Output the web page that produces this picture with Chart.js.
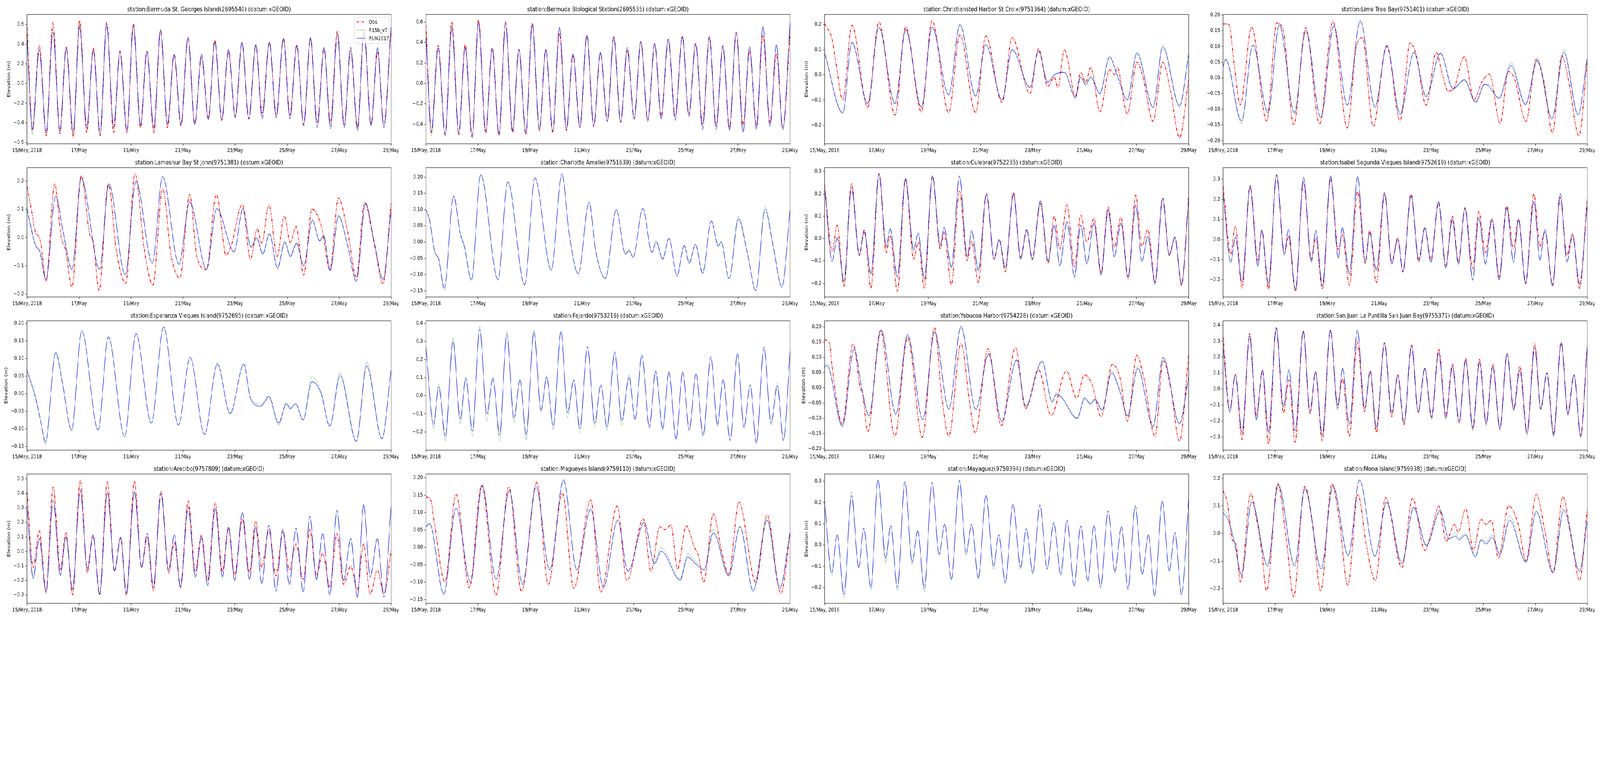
<!DOCTYPE html>
<html>
<head>
<meta charset="utf-8">
<script src="https://cdn.jsdelivr.net/npm/chart.js@4.4.1/dist/chart.umd.min.js"></script>
<style>
html, body { margin: 0; padding: 0; background: #fff; overflow: hidden; }
#fig { position: relative; width: 5150px; height: 1950px; background: #fff; overflow: hidden; transform-origin: 0 0; }
#fig canvas { position: absolute; }
</style>
</head>
<body>
<div id="fig"></div>
<script>
// x values are hours since 15/May/2018 00:00
var dayTicks = [0, 48, 96, 144, 192, 240, 288, 336];
var dayLabels = ['15/May, 2018', '17/May', '19/May', '21/May', '23/May', '25/May', '27/May', '29/May'];
var seriesNames = ['Obs', 'R15b_v7', 'RUN2017'];

// ---- Bermuda (both stations share the tide timing) ----
var bermudaT = [0, 5.0, 11.3, 17.7, 23.9, 30.3, 36.2, 42.6, 48.5, 55.1, 61.2, 67.4, 73.5, 79.9, 85.8, 92.2, 98.1, 104.7, 110.6, 117.0, 123.2, 129.6, 135.7, 142.1, 148.5, 154.8, 161.0, 167.4, 173.3, 179.7, 185.8, 192.2, 198.3, 204.7, 211.1, 217.0, 223.6, 230.0, 236.6, 242.6, 248.9, 255.3, 261.5, 267.8, 274.0, 280.1, 286.3, 292.7, 298.6, 305.0, 310.9, 317.5, 323.4, 329.3, 336];
var stGeorgesObs = [0.57, -0.46, 0.39, -0.53, 0.62, -0.51, 0.37, -0.55, 0.64, -0.50, 0.36, -0.53, 0.62, -0.50, 0.33, -0.50, 0.61, -0.45, 0.33, -0.50, 0.54, -0.45, 0.29, -0.43, 0.47, -0.41, 0.27, -0.35, 0.44, -0.38, 0.32, -0.33, 0.41, -0.36, 0.39, -0.30, 0.42, -0.32, 0.46, -0.32, 0.39, -0.42, 0.46, -0.40, 0.35, -0.40, 0.53, -0.42, 0.34, -0.44, 0.54, -0.41, 0.32, -0.42, 0.59];
var stGeorgesR15 = [0.50, -0.52, 0.35, -0.51, 0.55, -0.49, 0.36, -0.52, 0.60, -0.46, 0.34, -0.50, 0.60, -0.44, 0.32, -0.47, 0.58, -0.42, 0.32, -0.45, 0.55, -0.41, 0.30, -0.41, 0.46, -0.41, 0.29, -0.36, 0.43, -0.37, 0.34, -0.34, 0.42, -0.35, 0.40, -0.34, 0.42, -0.34, 0.45, -0.34, 0.38, -0.42, 0.46, -0.43, 0.36, -0.44, 0.51, -0.43, 0.36, -0.45, 0.55, -0.42, 0.36, -0.43, 0.58];
var stGeorgesRun = [0.45, -0.48, 0.34, -0.50, 0.52, -0.48, 0.36, -0.50, 0.58, -0.45, 0.34, -0.52, 0.60, -0.45, 0.32, -0.48, 0.59, -0.43, 0.32, -0.46, 0.55, -0.42, 0.30, -0.42, 0.47, -0.42, 0.30, -0.37, 0.42, -0.37, 0.35, -0.35, 0.42, -0.36, 0.39, -0.36, 0.42, -0.35, 0.46, -0.36, 0.39, -0.43, 0.47, -0.45, 0.37, -0.46, 0.50, -0.45, 0.37, -0.48, 0.52, -0.43, 0.37, -0.45, 0.60];
var bioObs = [0.57, -0.48, 0.37, -0.51, 0.60, -0.50, 0.38, -0.53, 0.62, -0.49, 0.35, -0.51, 0.60, -0.48, 0.33, -0.50, 0.59, -0.46, 0.33, -0.48, 0.49, -0.46, 0.27, -0.43, 0.47, -0.42, 0.30, -0.37, 0.46, -0.38, 0.32, -0.34, 0.41, -0.36, 0.39, -0.32, 0.43, -0.32, 0.46, -0.30, 0.39, -0.40, 0.45, -0.41, 0.36, -0.43, 0.50, -0.41, 0.32, -0.41, 0.47, -0.38, 0.29, -0.44, 0.50];
var bioR15 = [0.50, -0.51, 0.34, -0.51, 0.56, -0.48, 0.35, -0.51, 0.59, -0.46, 0.34, -0.50, 0.58, -0.46, 0.33, -0.48, 0.58, -0.44, 0.33, -0.46, 0.55, -0.44, 0.29, -0.42, 0.46, -0.41, 0.30, -0.36, 0.45, -0.37, 0.35, -0.34, 0.41, -0.36, 0.39, -0.34, 0.43, -0.35, 0.46, -0.31, 0.38, -0.43, 0.45, -0.43, 0.36, -0.45, 0.50, -0.46, 0.36, -0.44, 0.55, -0.41, 0.38, -0.44, 0.58];
var bioRun = [0.45, -0.47, 0.35, -0.50, 0.54, -0.49, 0.35, -0.52, 0.60, -0.47, 0.34, -0.50, 0.59, -0.47, 0.33, -0.49, 0.58, -0.45, 0.33, -0.47, 0.55, -0.45, 0.29, -0.43, 0.47, -0.42, 0.30, -0.37, 0.45, -0.38, 0.35, -0.35, 0.41, -0.37, 0.39, -0.35, 0.43, -0.36, 0.46, -0.32, 0.39, -0.45, 0.46, -0.45, 0.37, -0.46, 0.50, -0.48, 0.36, -0.45, 0.56, -0.42, 0.38, -0.45, 0.60];

// ---- Christiansted Harbor ----
var chrisObsT = [0, 7, 10.3, 16.8, 25.3, 39.8, 50.1, 65, 74.9, 89.4, 99.2, 114.6, 124.9, 139.4, 148.8, 163.8, 173.1, 189.5, 197.5, 205.9, 212, 215.3, 221.3, 231.6, 236.3, 241, 245.7, 254.1, 263, 268.1, 270, 279.4, 288.3, 293.9, 303.2, 312.1, 319.1, 327.6, 336];
var chrisObs = [0.205, 0.14, 0.055, -0.10, 0.197, -0.13, 0.21, -0.16, 0.19, -0.147, 0.215, -0.15, 0.16, -0.15, 0.155, -0.11, 0.148, -0.075, 0.104, -0.046, -0.01, -0.05, 0.10, -0.085, 0.01, -0.03, 0.03, -0.147, 0.02, 0.0, 0.03, -0.155, 0.05, -0.01, -0.185, 0.05, -0.06, -0.25, -0.02];
var chrisT = [0, 16.8, 25.3, 39.8, 50.1, 65, 74.9, 89.4, 99.2, 114.6, 124.9, 139.4, 148.8, 163.8, 173.1, 189.5, 197.5, 205.9, 212, 221.3, 231.6, 236.3, 241, 245.7, 254.1, 263, 270, 279.4, 288.3, 303.2, 312.1, 327.6, 336];
var chrisR15 = [0.085, -0.155, 0.125, -0.11, 0.185, -0.11, 0.175, -0.125, 0.185, -0.078, 0.195, -0.08, 0.118, -0.098, 0.1, -0.048, 0.093, -0.025, 0.0, 0.01, -0.095, -0.005, -0.035, -0.005, -0.07, 0.075, 0.0, -0.095, 0.09, -0.125, 0.12, -0.12, 0.085];
var chrisRun = [0.09, -0.15, 0.13, -0.115, 0.19, -0.115, 0.18, -0.13, 0.19, -0.08, 0.2, -0.085, 0.12, -0.1, 0.1, -0.05, 0.095, -0.03, 0.0, 0.01, -0.09, -0.01, -0.04, -0.01, -0.075, 0.07, 0.0, -0.1, 0.085, -0.13, 0.11, -0.125, 0.08];

// ---- Lime Tree Bay ----
var limeObsT = [0, 5.3, 10, 15.8, 26.3, 40.2, 49.5, 55.3, 65.1, 76.2, 89, 101.3, 114.5, 122.7, 128.5, 138.5, 151, 163.3, 172.6, 178, 187.3, 196.6, 202.8, 207.5, 212.1, 222.6, 231.4, 238.8, 245.8, 255.6, 263.2, 269, 279.5, 288.8, 295.8, 303.9, 312.5, 319, 328.3, 336];
var limeObs = [0.172, 0.17, 0.05, -0.085, 0.161, -0.137, 0.175, 0.153, -0.149, 0.16, -0.147, 0.18, -0.16, 0.095, 0.128, -0.154, 0.103, -0.137, 0.112, 0.074, -0.087, 0.081, 0.004, -0.042, -0.038, 0.068, -0.07, -0.013, 0.012, -0.145, 0.02, -0.004, -0.139, 0.058, -0.008, -0.174, 0.07, -0.013, -0.185, 0.054];
var limeT = [0, 2.3, 17, 27.4, 41.4, 51.8, 65.8, 76.2, 90.1, 102.2, 114.5, 126.6, 140.1, 151, 163.3, 176.1, 187.3, 200.5, 212.1, 222.6, 233, 241.2, 244.7, 254.6, 265.6, 279, 290, 303.4, 314.4, 327.6, 336];
var limeR15 = [0.035, 0.057, -0.145, 0.103, -0.115, 0.165, -0.113, 0.145, -0.125, 0.163, -0.085, 0.178, -0.088, 0.099, -0.11, 0.08, -0.055, 0.079, -0.03, -0.01, -0.08, -0.022, -0.02, -0.063, 0.05, -0.082, 0.063, -0.125, 0.09, -0.112, 0.06];
var limeRun = [0.037, 0.059, -0.137, 0.105, -0.11, 0.17, -0.11, 0.151, -0.127, 0.166, -0.087, 0.182, -0.094, 0.101, -0.116, 0.081, -0.06, 0.078, -0.035, -0.006, -0.077, -0.02, -0.025, -0.065, 0.039, -0.085, 0.055, -0.131, 0.081, -0.118, 0.066];

// ---- Lameshur Bay ----
var lameshurObsT = [0, 4.2, 8, 10.4, 12.7, 17.5, 25.5, 31.6, 35.4, 41.5, 50, 57.6, 61.3, 66.5, 75, 82.6, 91.1, 99.6, 108.5, 116.1, 125.1, 133.1, 141.1, 150.1, 156.7, 165.6, 174.6, 181.7, 183.1, 188.3, 198.7, 206.2, 212.4, 216.6, 223.2, 230.8, 237.4, 243, 248.2, 255.3, 262.9, 272, 279.4, 287.4, 295.9, 303.9, 311.5, 320.4, 328.5, 336];
var lameshurObs = [0.18, 0.094, 0.016, 0.006, -0.02, -0.155, 0.19, 0.0, -0.04, -0.175, 0.218, 0.016, -0.02, -0.187, 0.188, -0.05, -0.162, 0.225, -0.05, -0.168, 0.172, -0.067, -0.143, 0.152, -0.067, -0.113, 0.152, -0.03, -0.063, -0.03, 0.117, -0.077, 0.03, -0.02, 0.115, -0.067, 0.076, -0.017, 0.039, -0.132, 0.101, 0.034, -0.113, 0.14, 0.02, -0.141, 0.124, -0.021, -0.162, 0.126];
var lameshurT = [0, 5.7, 8, 11.8, 17.5, 26.4, 33.5, 41.5, 50, 67, 75.5, 90.6, 100.5, 115.6, 125.1, 140.2, 150.1, 165.6, 175.1, 191.1, 199.2, 206.7, 211.9, 217.6, 223.7, 231.2, 237.8, 243, 248.7, 255.3, 263.3, 270, 273.7, 279.8, 287.4, 295.9, 303.9, 312.4, 320.4, 328.5, 336];
var lameshurR15 = [0.105, 0.005, -0.025, -0.045, -0.145, 0.145, 0.02, -0.11, 0.205, -0.11, 0.185, -0.128, 0.195, -0.088, 0.212, -0.092, 0.124, -0.11, 0.1, -0.05, 0.1, -0.03, 0.0, -0.055, 0.015, -0.105, -0.012, -0.062, -0.018, -0.097, 0.06, -0.01, 0.008, -0.115, 0.08, -0.028, -0.15, 0.12, -0.015, -0.145, 0.1];
var lameshurRun = [0.099, 0.0, -0.03, -0.05, -0.15, 0.147, 0.016, -0.113, 0.21, -0.113, 0.19, -0.132, 0.2, -0.09, 0.216, -0.095, 0.126, -0.113, 0.103, -0.051, 0.103, -0.035, -0.003, -0.058, 0.013, -0.109, -0.017, -0.067, -0.021, -0.1, 0.062, -0.012, 0.006, -0.118, 0.076, -0.03, -0.155, 0.122, -0.017, -0.148, 0.099];

// ---- Charlotte Amalie (models only) ----
var charlotteT = [0, 3.3, 8, 11.8, 17, 25.5, 31.6, 35.4, 42, 50.5, 66.5, 75.5, 91.1, 100.5, 115.6, 125.5, 132.1, 140.6, 150.5, 156.7, 165.6, 175.6, 184.1, 187.4, 191.2, 200.1, 208.6, 212.4, 218.5, 224.2, 231.7, 238.3, 243, 248.7, 255.3, 263.3, 269.9, 272.3, 279.8, 288.3, 296.8, 304.4, 312.9, 320.4, 328.5, 336];
var charlotteR15 = [0.1, 0.07, -0.025, -0.05, -0.148, 0.142, 0.03, -0.01, -0.12, 0.205, -0.118, 0.183, -0.133, 0.195, -0.088, 0.207, 0.03, -0.1, 0.12, -0.025, -0.113, 0.098, -0.035, -0.022, -0.045, 0.103, -0.03, 0.004, -0.05, 0.012, -0.105, -0.01, -0.06, -0.008, -0.098, 0.065, -0.01, 0.003, -0.113, 0.079, -0.035, -0.15, 0.11, -0.01, -0.135, 0.1];
var charlotteRun = [0.1, 0.067, -0.029, -0.053, -0.141, 0.142, 0.027, -0.013, -0.115, 0.208, -0.115, 0.186, -0.131, 0.198, -0.085, 0.21, 0.027, -0.097, 0.122, -0.029, -0.111, 0.1, -0.037, -0.027, -0.047, 0.104, -0.033, 0.0, -0.053, 0.011, -0.103, -0.011, -0.065, -0.007, -0.095, 0.065, -0.013, 0.0, -0.113, 0.071, -0.037, -0.149, 0.1, -0.013, -0.139, 0.1];

// ---- Culebra ----
var culebraT = [0, 7, 11.7, 17.9, 24.9, 32, 36.7, 42.8, 50.3, 56.9, 60.6, 67.2, 74.7, 82.2, 86.5, 92.1, 99.6, 106.7, 110.4, 117, 124.5, 131.6, 135.8, 141.9, 149.4, 156.5, 161.2, 166.8, 174.3, 180.9, 186.6, 191.7, 199.2, 206.3, 211.9, 217.1, 223.7, 230.7, 236.4, 242, 248.6, 255.2, 261.7, 267.4, 273.5, 280.1, 287.2, 292.8, 298.4, 305, 312, 318.1, 323.3, 329.4, 336];
var culebraObs = [0.243, -0.057, 0.06, -0.212, 0.246, -0.075, 0.039, -0.221, 0.29, -0.063, 0.013, -0.235, 0.264, -0.092, -0.016, -0.223, 0.281, -0.046, 0.025, -0.206, 0.214, -0.098, -0.011, -0.197, 0.202, -0.092, -0.005, -0.148, 0.205, -0.086, 0.039, -0.092, 0.156, -0.11, 0.1, -0.048, 0.15, -0.127, 0.106, -0.016, 0.089, -0.151, 0.141, -0.04, 0.095, -0.18, 0.194, -0.034, 0.042, -0.194, 0.182, -0.075, 0.007, -0.209, 0.188];
var culebraR15 = [0.23, -0.105, 0.0, -0.2, 0.225, -0.075, 0.025, -0.165, 0.285, -0.04, 0.04, -0.18, 0.265, -0.055, 0.02, -0.19, 0.275, -0.035, 0.045, -0.135, 0.275, -0.085, 0.03, -0.15, 0.195, -0.095, -0.01, -0.14, 0.195, -0.095, 0.035, -0.1, 0.165, -0.105, 0.055, -0.125, 0.07, -0.175, 0.055, -0.115, 0.065, -0.165, 0.125, -0.085, 0.065, -0.175, 0.145, -0.105, 0.005, -0.205, 0.175, -0.075, 0.0, -0.205, 0.175];
var culebraRun = [0.24, -0.1, 0.004, -0.19, 0.23, -0.07, 0.03, -0.156, 0.29, -0.035, 0.045, -0.17, 0.27, -0.05, 0.025, -0.18, 0.28, -0.03, 0.05, -0.127, 0.28, -0.08, 0.035, -0.14, 0.2, -0.09, -0.005, -0.13, 0.2, -0.09, 0.04, -0.09, 0.17, -0.1, 0.06, -0.12, 0.075, -0.17, 0.06, -0.11, 0.07, -0.16, 0.13, -0.08, 0.07, -0.17, 0.15, -0.1, 0.01, -0.2, 0.18, -0.07, 0.005, -0.2, 0.18];

// ---- Isabel Segunda ----
var isabelT = [0, 7, 11.3, 17.4, 24.9, 32, 35.7, 41.8, 49.3, 56.4, 60.2, 66.7, 74.2, 81.3, 85.5, 91.6, 99.2, 106.2, 110, 116.5, 124.1, 131.1, 135.3, 141.4, 149, 155.5, 161.2, 165.9, 173.4, 180.5, 186.1, 191.7, 198.8, 205.4, 211.5, 217.1, 223.2, 230.3, 235.9, 242, 248.1, 254.7, 261.7, 267.9, 272.6, 279.1, 286.7, 292.3, 297, 304, 311.1, 317.2, 322.4, 328.9, 336];
var isabelObs = [0.266, -0.072, 0.068, -0.241, 0.269, -0.105, 0.045, -0.247, 0.318, -0.072, 0.019, -0.257, 0.288, -0.098, 0.006, -0.247, 0.305, -0.053, 0.025, -0.228, 0.24, -0.118, 0.045, -0.215, 0.227, -0.111, 0.009, -0.16, 0.227, -0.111, 0.058, -0.098, 0.181, -0.131, 0.116, -0.111, 0.155, -0.144, 0.139, -0.066, 0.103, -0.186, 0.168, -0.046, 0.103, -0.215, 0.227, -0.033, 0.038, -0.225, 0.21, -0.079, 0.029, -0.244, 0.207];
var isabelR15 = [0.225, -0.12, 0.015, -0.22, 0.265, -0.14, 0.05, -0.23, 0.32, -0.08, 0.05, -0.255, 0.305, -0.115, 0.04, -0.235, 0.31, -0.095, 0.055, -0.18, 0.305, -0.115, 0.03, -0.16, 0.23, -0.125, 0.0, -0.165, 0.215, -0.105, 0.055, -0.115, 0.185, -0.145, 0.095, -0.125, 0.155, -0.205, 0.105, -0.125, 0.095, -0.205, 0.155, -0.115, 0.095, -0.225, 0.185, -0.105, 0.045, -0.235, 0.225, -0.115, 0.02, -0.225, 0.175];
var isabelRun = [0.23, -0.11, 0.01, -0.21, 0.26, -0.13, 0.045, -0.22, 0.325, -0.07, 0.05, -0.25, 0.31, -0.11, 0.045, -0.23, 0.318, -0.09, 0.06, -0.17, 0.315, -0.11, 0.035, -0.15, 0.235, -0.12, 0.0, -0.16, 0.22, -0.1, 0.06, -0.11, 0.19, -0.14, 0.1, -0.12, 0.16, -0.2, 0.11, -0.12, 0.1, -0.2, 0.16, -0.11, 0.1, -0.22, 0.19, -0.1, 0.05, -0.23, 0.23, -0.11, 0.02, -0.22, 0.18];

// ---- Esperanza (models only) ----
var esperanzaT = [0, 8, 12.7, 17, 26.4, 32.6, 41.1, 50.5, 65.6, 75, 90.1, 100.5, 114.7, 126, 139.7, 150.5, 163.8, 175.6, 187.4, 200.1, 206.2, 215.7, 223.2, 232.2, 239.3, 243, 247.8, 254.8, 262.9, 271.4, 279.4, 288.8, 303.9, 313.4, 327.5, 336];
var esperanzaR15 = [0.07, -0.01, -0.08, -0.143, 0.12, 0.035, -0.107, 0.178, -0.105, 0.16, -0.122, 0.17, -0.085, 0.188, -0.09, 0.102, -0.116, 0.085, -0.058, 0.085, -0.01, -0.03, -0.015, -0.09, -0.025, -0.04, -0.03, -0.075, 0.048, 0.005, -0.092, 0.06, -0.134, 0.09, -0.127, 0.07];
var esperanzaRun = [0.064, -0.014, -0.08, -0.138, 0.116, 0.031, -0.103, 0.179, -0.103, 0.162, -0.123, 0.171, -0.084, 0.19, -0.09, 0.103, -0.117, 0.084, -0.056, 0.083, -0.014, -0.036, -0.008, -0.084, -0.029, -0.043, -0.029, -0.075, 0.034, 0.0, -0.093, 0.051, -0.136, 0.079, -0.129, 0.071];

// ---- Fajardo (models only) ----
var fajardoT = [0, 7.1, 11.8, 17.9, 25, 31.6, 36.8, 42.9, 49.6, 56.2, 61.8, 68, 74.6, 81.2, 86.8, 92.5, 99.6, 106.2, 111.4, 117.5, 124.6, 130.7, 136.4, 142, 149.1, 155.7, 161.4, 167.1, 174.2, 180.7, 187.4, 193, 199.2, 206.2, 211.9, 218.5, 224.2, 230.8, 236.9, 243, 249.2, 255.8, 262.9, 269, 274.2, 280.8, 287.4, 293.5, 299.2, 304.9, 311.9, 318.5, 324.2, 329.9, 336];
var fajardoR15 = [0.27, -0.18, 0.065, -0.25, 0.32, -0.155, 0.1, -0.22, 0.385, -0.14, 0.1, -0.25, 0.355, -0.15, 0.09, -0.245, 0.365, -0.09, 0.11, -0.19, 0.36, -0.12, 0.085, -0.205, 0.27, -0.175, 0.06, -0.19, 0.245, -0.165, 0.115, -0.135, 0.225, -0.18, 0.14, -0.19, 0.135, -0.245, 0.135, -0.195, 0.125, -0.225, 0.215, -0.17, 0.09, -0.25, 0.235, -0.18, 0.06, -0.265, 0.27, -0.16, 0.07, -0.25, 0.25];
var fajardoRun = [0.267, -0.159, 0.05, -0.224, 0.296, -0.13, 0.094, -0.195, 0.368, -0.101, 0.094, -0.216, 0.339, -0.123, 0.087, -0.216, 0.35, -0.079, 0.101, -0.166, 0.353, -0.094, 0.087, -0.18, 0.27, -0.151, 0.058, -0.173, 0.238, -0.137, 0.101, -0.13, 0.224, -0.173, 0.133, -0.18, 0.13, -0.238, 0.13, -0.187, 0.119, -0.216, 0.213, -0.159, 0.087, -0.245, 0.234, -0.173, 0.058, -0.26, 0.267, -0.151, 0.054, -0.245, 0.245];

// ---- Yabucoa Harbor ----
var yabucoaObsT = [0, 4.7, 7, 16.4, 26.3, 32.9, 35.2, 39.9, 51.7, 64.8, 76.6, 90.2, 101.5, 108.1, 114.7, 125.9, 133.9, 139.1, 150.8, 163.1, 176.2, 185.6, 197.4, 209.1, 223.2, 232.6, 239.7, 246.7, 255.2, 265.5, 272.6, 279.6, 288.1, 294.6, 305, 312.5, 319.5, 327.5, 336];
var yabucoaObs = [0.158, 0.145, 0.068, -0.118, 0.145, 0.0, -0.02, -0.143, 0.188, -0.158, 0.165, -0.162, 0.197, -0.026, -0.158, 0.145, -0.047, -0.147, 0.128, -0.124, 0.132, -0.068, 0.06, -0.09, 0.056, -0.034, 0.043, 0.013, -0.094, 0.077, 0.034, -0.109, 0.107, 0.034, -0.158, 0.09, 0.0, -0.175, 0.107];
var yabucoaT = [0, 2.3, 16.4, 27.3, 34.3, 40.9, 52.2, 65.8, 76.6, 90.7, 101.5, 114.7, 125.9, 139.6, 151.3, 163.5, 177.2, 185.6, 200.7, 210.1, 213.8, 218.5, 233.1, 240.1, 245.3, 249.5, 256.1, 265, 272.6, 279.6, 289, 303.1, 312.5, 327.5, 336];
var yabucoaR15 = [0.075, 0.078, -0.128, 0.125, 0.0, -0.095, 0.188, -0.088, 0.17, -0.105, 0.18, -0.07, 0.195, -0.072, 0.108, -0.11, 0.09, -0.062, 0.085, -0.048, -0.015, -0.028, -0.098, -0.03, -0.05, -0.035, -0.07, 0.055, -0.01, -0.09, 0.07, -0.13, 0.098, -0.115, 0.04];
var yabucoaRun = [0.068, 0.073, -0.124, 0.128, 0.0, -0.09, 0.19, -0.085, 0.175, -0.103, 0.184, -0.068, 0.201, -0.07, 0.111, -0.109, 0.092, -0.06, 0.088, -0.045, -0.021, -0.03, -0.1, -0.034, -0.053, -0.038, -0.073, 0.049, -0.013, -0.092, 0.064, -0.126, 0.1, -0.118, 0.034];

// ---- San Juan La Puntilla ----
var sanJuanT = [0, 6.1, 11.3, 17.4, 24.5, 30.6, 36.3, 41.9, 49, 55.6, 60.8, 66.4, 74, 80.1, 85.3, 91.4, 99, 105.6, 110.3, 116.4, 123.9, 130.5, 135.7, 141.4, 148.9, 155.5, 161.2, 166.8, 173.9, 180, 186.1, 192.3, 198.9, 205.5, 211.6, 217.7, 223.8, 230.4, 236.6, 242.7, 248.8, 255.4, 262, 268.1, 273.8, 280.4, 287.5, 293.1, 298.8, 304.9, 312, 318.1, 323.8, 329.9, 336];
var sanJuanObs = [0.325, -0.132, 0.092, -0.316, 0.346, -0.165, 0.113, -0.345, 0.382, -0.149, 0.056, -0.333, 0.362, -0.157, 0.105, -0.324, 0.366, -0.1, 0.064, -0.296, 0.292, -0.141, 0.113, -0.271, 0.288, -0.173, 0.088, -0.222, 0.276, -0.149, 0.129, -0.173, 0.248, -0.165, 0.154, -0.214, 0.19, -0.239, 0.186, -0.214, 0.154, -0.247, 0.223, -0.124, 0.145, -0.271, 0.284, -0.124, 0.1, -0.279, 0.292, -0.149, 0.088, -0.288, 0.276];
var sanJuanR15 = [0.27, -0.15, 0.09, -0.285, 0.335, -0.2, 0.12, -0.28, 0.39, -0.12, 0.115, -0.27, 0.365, -0.15, 0.105, -0.3, 0.37, -0.13, 0.125, -0.23, 0.365, -0.13, 0.105, -0.25, 0.285, -0.16, 0.08, -0.22, 0.265, -0.15, 0.125, -0.19, 0.225, -0.19, 0.135, -0.21, 0.175, -0.26, 0.165, -0.23, 0.135, -0.26, 0.215, -0.14, 0.115, -0.29, 0.255, -0.13, 0.095, -0.3, 0.285, -0.17, 0.085, -0.305, 0.275];
var sanJuanRun = [0.26, -0.14, 0.09, -0.27, 0.33, -0.19, 0.12, -0.27, 0.38, -0.11, 0.12, -0.26, 0.36, -0.14, 0.11, -0.29, 0.37, -0.12, 0.13, -0.22, 0.37, -0.12, 0.11, -0.24, 0.29, -0.15, 0.085, -0.21, 0.27, -0.14, 0.13, -0.18, 0.23, -0.18, 0.14, -0.2, 0.18, -0.25, 0.17, -0.22, 0.14, -0.25, 0.22, -0.13, 0.12, -0.28, 0.26, -0.12, 0.1, -0.29, 0.29, -0.16, 0.09, -0.3, 0.28];

// ---- Arecibo ----
var areciboT = [0, 5.7, 11.3, 17.5, 24.1, 30.7, 35.9, 42, 49.1, 55.7, 60.9, 67, 74.1, 80.7, 86.4, 91.6, 99.1, 105.7, 110.9, 116.6, 123.6, 130.7, 135.9, 141.6, 148.7, 155.3, 160.9, 166.6, 173.7, 180.3, 185.9, 191.6, 198.7, 205.3, 210.9, 216.6, 223.2, 229.8, 236, 242.1, 248.2, 254.8, 261, 267.1, 272.8, 279.4, 286, 292.1, 298.7, 304.9, 310.5, 316.7, 323.3, 329.4, 336];
var areciboObs = [0.406, -0.11, 0.141, -0.271, 0.446, -0.128, 0.128, -0.298, 0.491, -0.146, 0.11, -0.294, 0.478, -0.137, 0.096, -0.303, 0.482, -0.11, 0.1, -0.271, 0.415, -0.146, 0.061, -0.24, 0.348, -0.137, 0.114, -0.2, 0.334, -0.137, 0.168, -0.164, 0.222, -0.146, 0.209, -0.11, 0.146, -0.168, 0.137, -0.128, 0.052, -0.191, 0.15, -0.164, -0.011, -0.244, 0.123, -0.226, -0.101, -0.267, 0.052, -0.294, -0.128, -0.289, 0.007];
var areciboR15 = [0.3, -0.19, 0.09, -0.29, 0.36, -0.17, 0.105, -0.27, 0.425, -0.125, 0.115, -0.3, 0.41, -0.14, 0.1, -0.3, 0.415, -0.115, 0.125, -0.25, 0.4, -0.135, 0.115, -0.255, 0.305, -0.18, 0.1, -0.24, 0.3, -0.18, 0.165, -0.205, 0.27, -0.195, 0.17, -0.225, 0.18, -0.275, 0.155, -0.23, 0.16, -0.28, 0.245, -0.2, 0.125, -0.3, 0.285, -0.205, 0.09, -0.32, 0.325, -0.18, 0.09, -0.315, 0.33];
var areciboRun = [0.312, -0.182, 0.087, -0.28, 0.348, -0.164, 0.1, -0.262, 0.419, -0.119, 0.114, -0.298, 0.406, -0.132, 0.096, -0.289, 0.41, -0.11, 0.123, -0.244, 0.397, -0.128, 0.114, -0.249, 0.303, -0.173, 0.096, -0.231, 0.294, -0.173, 0.164, -0.2, 0.267, -0.191, 0.168, -0.218, 0.177, -0.271, 0.15, -0.226, 0.159, -0.276, 0.24, -0.191, 0.123, -0.298, 0.28, -0.2, 0.087, -0.316, 0.321, -0.173, 0.087, -0.312, 0.325];

// ---- Magueyes Island ----
var magueyesObsT = [0, 4.2, 8, 17.5, 27.8, 40.1, 51.4, 64.7, 76.5, 88.2, 102.4, 112.8, 126, 136.4, 152, 161.4, 176.5, 185.5, 200.6, 207.6, 215.7, 220.4, 226, 232.2, 240.2, 247.8, 251.5, 256.3, 265.2, 273.2, 279.4, 288.8, 304.4, 314.8, 327.5, 336];
var magueyesObs = [0.145, 0.138, 0.066, -0.1, 0.153, -0.116, 0.179, -0.137, 0.174, -0.126, 0.187, -0.107, 0.155, -0.118, 0.136, -0.128, 0.119, -0.096, 0.081, -0.069, 0.059, 0.051, 0.064, -0.062, 0.062, 0.0, -0.024, -0.1, 0.096, -0.017, -0.077, 0.13, -0.1, 0.094, -0.133, 0.04];
var magueyesT = [0, 3.3, 16.5, 27.8, 41.1, 51.9, 64.7, 76.9, 89.2, 101.5, 114.2, 127, 139.2, 152, 163.8, 177, 186.4, 201.5, 210.9, 217.1, 234.5, 241.6, 248.7, 256.7, 265.2, 279.4, 289.8, 302, 314.8, 326.6, 336];
var magueyesR15 = [0.062, 0.07, -0.137, 0.112, -0.1, 0.176, -0.09, 0.16, -0.105, 0.17, -0.064, 0.19, -0.063, 0.108, -0.113, 0.078, -0.068, 0.07, -0.045, 0.0, -0.09, -0.018, -0.04, -0.062, 0.052, -0.08, 0.062, -0.122, 0.085, -0.112, 0.04];
var magueyesRun = [0.059, 0.068, -0.133, 0.113, -0.1, 0.179, -0.092, 0.164, -0.107, 0.177, -0.065, 0.194, -0.065, 0.111, -0.115, 0.079, -0.069, 0.072, -0.047, -0.011, -0.094, -0.028, -0.047, -0.065, 0.042, -0.082, 0.059, -0.126, 0.078, -0.118, 0.044];

// ---- Mayaguez (models only) ----
var mayaguezT = [0, 6.6, 11.7, 17.9, 24.9, 31.5, 36.2, 42.8, 49.3, 56.4, 61.1, 67.2, 74.2, 80.8, 86, 92.1, 99.2, 105.7, 110.9, 117, 124.5, 130.6, 135.8, 141.9, 149, 156, 160.7, 166.8, 173.9, 180.9, 186.1, 192.2, 198.8, 205.4, 211.5, 218, 223.7, 230.3, 236.4, 243, 248.6, 254.7, 261.7, 267.9, 274, 280.1, 286.7, 293.2, 298.9, 304.5, 311.6, 318.1, 323.3, 329.4, 336];
var mayaguezR15 = [0.2, -0.145, 0.05, -0.245, 0.25, -0.11, 0.08, -0.21, 0.308, -0.085, 0.09, -0.21, 0.298, -0.09, 0.065, -0.22, 0.295, -0.05, 0.1, -0.168, 0.305, -0.05, 0.095, -0.163, 0.235, -0.115, 0.05, -0.18, 0.192, -0.115, 0.078, -0.138, 0.19, -0.115, 0.105, -0.145, 0.118, -0.196, 0.09, -0.173, 0.093, -0.205, 0.162, -0.133, 0.088, -0.21, 0.186, -0.14, 0.05, -0.245, 0.207, -0.125, 0.06, -0.22, 0.21];
var mayaguezRun = [0.208, -0.129, 0.048, -0.231, 0.233, -0.105, 0.079, -0.197, 0.306, -0.062, 0.091, -0.2, 0.297, -0.08, 0.067, -0.203, 0.294, -0.044, 0.098, -0.16, 0.303, -0.037, 0.098, -0.154, 0.233, -0.099, 0.048, -0.175, 0.19, -0.105, 0.076, -0.129, 0.187, -0.111, 0.104, -0.136, 0.116, -0.191, 0.088, -0.166, 0.091, -0.197, 0.159, -0.123, 0.085, -0.206, 0.183, -0.136, 0.048, -0.237, 0.205, -0.12, 0.058, -0.234, 0.214];

// ---- Mona Island ----
var monaObsT = [0, 3.8, 8.5, 11.8, 16, 25.4, 30.6, 35.3, 40.1, 50.4, 58.9, 65, 75.4, 82.5, 90, 100.4, 107.4, 115, 124.4, 132, 140.4, 149.9, 164.9, 174.8, 186.1, 193.2, 198.9, 205.9, 213.5, 216.8, 223.8, 230.9, 238, 242.7, 247.4, 254, 263.4, 272.4, 279.5, 288.9, 296.9, 304.4, 313.4, 321.4, 328.9, 336];
var monaObs = [0.156, 0.114, -0.023, -0.038, -0.175, 0.145, 0.057, -0.052, -0.208, 0.18, -0.042, -0.229, 0.171, 0.038, -0.208, 0.18, 0.043, -0.189, 0.142, -0.038, -0.17, 0.13, -0.123, 0.128, -0.061, 0.024, 0.1, -0.028, 0.033, 0.005, 0.09, -0.061, 0.052, 0.033, 0.048, -0.09, 0.1, 0.033, -0.099, 0.142, 0.01, -0.142, 0.133, -0.014, -0.17, 0.09];
var monaT = [0, 4.7, 10.4, 17, 26.4, 41, 50.9, 66, 75.4, 90.5, 101.3, 115.5, 125.8, 140, 150.8, 164.9, 175.8, 187.6, 200.3, 208.3, 214.4, 217.7, 223.4, 232.8, 238, 242.7, 248.4, 255.4, 264.4, 279.5, 288.9, 304.4, 314.3, 328.9, 336];
var monaR15 = [0.09, 0.06, -0.025, -0.145, 0.125, -0.11, 0.183, -0.11, 0.165, -0.12, 0.175, -0.075, 0.195, -0.08, 0.11, -0.1, 0.09, -0.045, 0.08, -0.02, 0.003, -0.015, 0.0, -0.08, -0.02, -0.03, -0.005, -0.07, 0.065, -0.1, 0.075, -0.135, 0.1, -0.13, 0.05];
var monaRun = [0.076, 0.048, -0.033, -0.151, 0.114, -0.118, 0.175, -0.118, 0.161, -0.128, 0.171, -0.08, 0.194, -0.083, 0.114, -0.109, 0.095, -0.042, 0.085, -0.019, -0.009, -0.023, -0.005, -0.085, -0.023, -0.038, -0.014, -0.076, 0.048, -0.104, 0.081, -0.142, 0.085, -0.137, 0.048];

// ---- y tick labels and y ranges per panel ----
var stGeorgesTicks = [-0.6, -0.4, -0.2, 0, 0.2, 0.4, 0.6];
var bioTicks = [-0.4, -0.2, 0, 0.2, 0.4, 0.6];
var chrisTicks = [-0.2, -0.1, 0, 0.1, 0.2];
var limeTicks = [-0.2, -0.15, -0.1, -0.05, 0, 0.05, 0.1, 0.15, 0.2];
var lameshurTicks = [-0.2, -0.1, 0, 0.1, 0.2];
var charlotteTicks = [-0.15, -0.1, -0.05, 0, 0.05, 0.1, 0.15, 0.2];
var culebraTicks = [-0.2, -0.1, 0, 0.1, 0.2, 0.3];
var isabelTicks = [-0.2, -0.1, 0, 0.1, 0.2, 0.3];
var esperanzaTicks = [-0.15, -0.1, -0.05, 0, 0.05, 0.1, 0.15, 0.2];
var fajardoTicks = [-0.2, -0.1, 0, 0.1, 0.2, 0.3, 0.4];
var yabucoaTicks = [-0.2, -0.15, -0.1, -0.05, 0, 0.05, 0.1, 0.15, 0.2];
var sanJuanTicks = [-0.3, -0.2, -0.1, 0, 0.1, 0.2, 0.3, 0.4];
var areciboTicks = [-0.3, -0.2, -0.1, 0, 0.1, 0.2, 0.3, 0.4, 0.5];
var magueyesTicks = [-0.15, -0.1, -0.05, 0, 0.05, 0.1, 0.15, 0.2];
var mayaguezTicks = [-0.2, -0.1, 0, 0.1, 0.2, 0.3];
var monaTicks = [-0.2, -0.1, 0, 0.1, 0.2];
var yRanges = [[-0.614, 0.703], [-0.59, 0.674], [-0.274, 0.24], [-0.21, 0.202],
               [-0.21, 0.247], [-0.169, 0.229], [-0.261, 0.317], [-0.286, 0.358],
               [-0.161, 0.207], [-0.301, 0.414], [-0.204, 0.22], [-0.383, 0.427],
               [-0.357, 0.533], [-0.161, 0.211], [-0.274, 0.334], [-0.253, 0.216]];

var stations = [
  {title: 'station:Bermuda St. Georges Island(2695540) (datum:xGEOID)', obsT: bermudaT, obs: stGeorgesObs, t: bermudaT, r15: stGeorgesR15, run: stGeorgesRun, ticks: stGeorgesTicks},
  {title: 'station:Bermuda Biological Station(2695535) (datum:xGEOID)', obsT: bermudaT, obs: bioObs, t: bermudaT, r15: bioR15, run: bioRun, ticks: bioTicks},
  {title: 'station:Christiansted Harbor St Croix(9751364) (datum:xGEOID)', obsT: chrisObsT, obs: chrisObs, t: chrisT, r15: chrisR15, run: chrisRun, ticks: chrisTicks},
  {title: 'station:Lime Tree Bay(9751401) (datum:xGEOID)', obsT: limeObsT, obs: limeObs, t: limeT, r15: limeR15, run: limeRun, ticks: limeTicks},
  {title: 'station:Lameshur Bay St John(9751381) (datum:xGEOID)', obsT: lameshurObsT, obs: lameshurObs, t: lameshurT, r15: lameshurR15, run: lameshurRun, ticks: lameshurTicks},
  {title: 'station:Charlotte Amalie(9751639) (datum:xGEOID)', obsT: null, obs: null, t: charlotteT, r15: charlotteR15, run: charlotteRun, ticks: charlotteTicks},
  {title: 'station:Culebra(9752235) (datum:xGEOID)', obsT: culebraT, obs: culebraObs, t: culebraT, r15: culebraR15, run: culebraRun, ticks: culebraTicks},
  {title: 'station:Isabel Segunda Vieques Island(9752619) (datum:xGEOID)', obsT: isabelT, obs: isabelObs, t: isabelT, r15: isabelR15, run: isabelRun, ticks: isabelTicks},
  {title: 'station:Esperanza Vieques Island(9752695) (datum:xGEOID)', obsT: null, obs: null, t: esperanzaT, r15: esperanzaR15, run: esperanzaRun, ticks: esperanzaTicks},
  {title: 'station:Fajardo(9753216) (datum:xGEOID)', obsT: null, obs: null, t: fajardoT, r15: fajardoR15, run: fajardoRun, ticks: fajardoTicks},
  {title: 'station:Yabucoa Harbor(9754228) (datum:xGEOID)', obsT: yabucoaObsT, obs: yabucoaObs, t: yabucoaT, r15: yabucoaR15, run: yabucoaRun, ticks: yabucoaTicks},
  {title: 'station:San Juan La Puntilla San Juan Bay(9755371) (datum:xGEOID)', obsT: sanJuanT, obs: sanJuanObs, t: sanJuanT, r15: sanJuanR15, run: sanJuanRun, ticks: sanJuanTicks},
  {title: 'station:Arecibo(9757809) (datum:xGEOID)', obsT: areciboT, obs: areciboObs, t: areciboT, r15: areciboR15, run: areciboRun, ticks: areciboTicks},
  {title: 'station:Magueyes Island(9759110) (datum:xGEOID)', obsT: magueyesObsT, obs: magueyesObs, t: magueyesT, r15: magueyesR15, run: magueyesRun, ticks: magueyesTicks},
  {title: 'station:Mayaguez(9759394) (datum:xGEOID)', obsT: null, obs: null, t: mayaguezT, r15: mayaguezR15, run: mayaguezRun, ticks: mayaguezTicks},
  {title: 'station:Mona Island(9759938) (datum:xGEOID)', obsT: monaObsT, obs: monaObs, t: monaT, r15: monaR15, run: monaRun, ticks: monaTicks}
];

// ---- layout (pixels) ----
var colLeft = [87.3, 1370.5, 2653.7, 3936.9];
var rowTop = [37.3, 429.3, 821.3, 1213.3];
var axW = 1172, axH = 331;
var padL = 80, padR = 40, padT = 37, padB = 35;
var FONT = '"DejaVu Sans", "Liberation Sans", sans-serif';

var styleObs = {color: '#ff0000', width: 2.2, dash: [8, 3, 2, 3]};
var styleR15 = {color: '#008000', width: 1.3, dash: [1.4, 2.3]};
var styleRun = {color: '#0000ff', width: 1.1, dash: []};

function pts(T, V) {
  var out = [];
  var n = Math.min(T.length, V.length);
  for (var i = 0; i < n; i++) out.push({x: T[i], y: V[i]});
  return out;
}

function tickText(v, dec) {
  var s = Math.abs(v) < 1e-9 ? (0).toFixed(dec) : v.toFixed(dec);
  return s.replace('-', '\u2212');
}

function lineDataset(label, data, st, order) {
  return {
    label: label, data: data, order: order,
    borderColor: st.color, borderWidth: st.width, borderDash: st.dash,
    pointRadius: 0, fill: false, cubicInterpolationMode: 'monotone'
  };
}

// frame, title, y label and legend drawn like matplotlib
var axesDecor = {
  id: 'axesDecor',
  afterDraw: function(chart, args, opts) {
    var ctx = chart.ctx, a = chart.chartArea;
    ctx.save();
    ctx.strokeStyle = '#000';
    ctx.lineWidth = 1.1;
    ctx.setLineDash([]);
    ctx.strokeRect(a.left, a.top, a.right - a.left, a.bottom - a.top);

    ctx.fillStyle = '#000';
    ctx.font = '16.7px ' + FONT;
    ctx.textAlign = 'center';
    ctx.textBaseline = 'alphabetic';
    ctx.fillText(opts.title, (a.left + a.right) / 2, a.top - 8.3);

    if (opts.ylabel) {
      ctx.font = '13.9px ' + FONT;
      var maxW = 0;
      opts.tickLabels.forEach(function(s) { maxW = Math.max(maxW, ctx.measureText(s).width); });
      var xc = a.left - 5 - 5 - maxW - 5.6 - 8;
      ctx.translate(xc, (a.top + a.bottom) / 2);
      ctx.rotate(-Math.PI / 2);
      ctx.textBaseline = 'middle';
      ctx.fillText('Elevation (m)', 0, 0);
      ctx.setTransform(1, 0, 0, 1, 0, 0);
    }

    if (opts.legend) {
      var w = 110, h = 67;
      var bx = a.right - 7 - w, by = a.top + 7;
      ctx.beginPath();
      if (ctx.roundRect) ctx.roundRect(bx, by, w, h, 3); else ctx.rect(bx, by, w, h);
      ctx.fillStyle = 'rgba(255,255,255,0.8)';
      ctx.fill();
      ctx.strokeStyle = '#cccccc';
      ctx.lineWidth = 1;
      ctx.stroke();
      var styles = [styleObs, styleR15, styleRun];
      ctx.font = '13.9px ' + FONT;
      ctx.textAlign = 'left';
      ctx.textBaseline = 'middle';
      for (var i = 0; i < 3; i++) {
        var y = by + 12 + i * 21;
        ctx.beginPath();
        ctx.strokeStyle = styles[i].color;
        ctx.lineWidth = styles[i].width;
        ctx.setLineDash(styles[i].dash);
        ctx.moveTo(bx + 6, y);
        ctx.lineTo(bx + 34, y);
        ctx.stroke();
        ctx.setLineDash([]);
        ctx.fillStyle = '#000';
        ctx.fillText(seriesNames[i], bx + 45, y + 1);
      }
    }
    ctx.restore();
  }
};

var fig = document.getElementById('fig');

// fit the 5150x1950 figure into whatever window we are given
var sx = Math.min(1, window.innerWidth / 5150), sy = Math.min(1, window.innerHeight / 1950);
if (sx < 1 || sy < 1) fig.style.transform = 'scale(' + sx + ',' + sy + ')';

stations.forEach(function(s, i) {
  var r = Math.floor(i / 4), c = i % 4;
  var cv = document.createElement('canvas');
  var cw = axW + padL + padR, ch = axH + padT + padB;
  cv.width = cw; cv.height = ch;
  cv.style.width = cw + 'px'; cv.style.height = ch + 'px';
  cv.style.left = Math.round(colLeft[c] - padL) + 'px';
  cv.style.top = Math.round(rowTop[r] - padT) + 'px';
  fig.appendChild(cv);

  var dec = s.ticks.some(function(v) { return Math.abs(Math.round(v * 100)) % 10 !== 0; }) ? 2 : 1;
  var labels = s.ticks.map(function(v) { return tickText(v, dec); });

  var datasets = [];
  if (s.obs) datasets.push(lineDataset(seriesNames[0], pts(s.obsT, s.obs), styleObs, 2));
  datasets.push(lineDataset(seriesNames[1], pts(s.t, s.r15), styleR15, 1));
  datasets.push(lineDataset(seriesNames[2], pts(s.t, s.run), styleRun, 0));

  new Chart(cv, {
    type: 'line',
    data: {datasets: datasets},
    options: {
      responsive: false,
      animation: false,
      devicePixelRatio: 1,
      layout: {padding: {left: 0, right: padR, top: padT, bottom: 0}},
      plugins: {
        legend: {display: false},
        tooltip: {enabled: false},
        title: {display: false},
        axesDecor: {title: s.title, ylabel: (c === 0 || c === 2), legend: i === 0, tickLabels: labels}
      },
      scales: {
        x: {
          type: 'linear', min: 0, max: 336,
          afterBuildTicks: function(sc) { sc.ticks = dayTicks.map(function(v) { return {value: v}; }); },
          afterFit: function(sc) { sc.height = padB; },
          ticks: {
            autoSkip: false, maxRotation: 0, minRotation: 0, padding: 4, color: '#000',
            font: {family: FONT, size: 13.9},
            callback: function(v, idx) { return dayLabels[idx]; }
          },
          grid: {drawOnChartArea: false, drawTicks: true, tickLength: 5, tickColor: '#000', tickWidth: 1.1},
          border: {display: false}
        },
        y: {
          type: 'linear', min: yRanges[i][0], max: yRanges[i][1],
          afterBuildTicks: function(sc) { sc.ticks = s.ticks.map(function(v) { return {value: v}; }); },
          afterFit: function(sc) { sc.width = padL; },
          ticks: {
            padding: 5, color: '#000',
            font: {family: FONT, size: 13.9},
            callback: function(v, idx) { return labels[idx]; }
          },
          grid: {drawOnChartArea: false, drawTicks: true, tickLength: 5, tickColor: '#000', tickWidth: 1.1},
          border: {display: false}
        }
      }
    },
    plugins: [axesDecor]
  });
});
</script>
</body>
</html>
